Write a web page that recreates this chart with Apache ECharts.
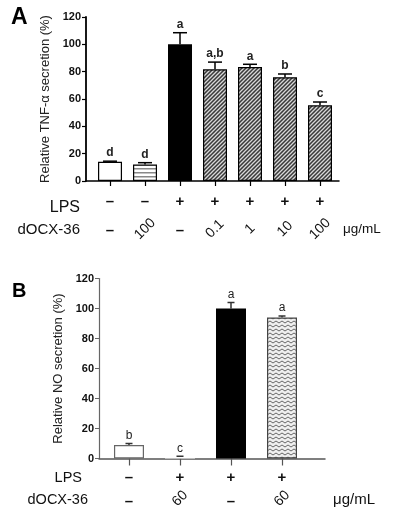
<!DOCTYPE html>
<html><head><meta charset="utf-8">
<script src="https://cdn.jsdelivr.net/npm/echarts@6/dist/echarts.min.js"></script>
<style>html,body{margin:0;padding:0;background:#fff}#c{width:395px;height:520px}</style>
</head><body><div id="c"></div>
<script>
// ---- data ----
const tnfValues = [14, 12, 100, 81.7, 83.4, 75.9, 55.4];
const tnfErrTop = [14.5, 13.4, 108.5, 87, 85.4, 78.3, 57.8];
const tnfLetters = ['d', 'd', 'a', 'a,b', 'a', 'b', 'c'];
const tnfLps = ['–', '–', '+', '+', '+', '+', '+'];
const tnfDose = ['–', '100', '–', '0.1', '1', '10', '100'];
const noValues = [9, 1, 100, 94];
const noErrTop = [10, 1.5, 104, 95];
const noLetters = ['b', 'c', 'a', 'a'];
const noLps = ['–', '+', '+', '+'];
const noDose = ['–', '60', '–', '60'];
const yMin = 0, yMax = 120, yStep = 20;

const FONT = 'Arial, "Liberation Sans", Helvetica, sans-serif';

// ---- patterns ----
function pat(w, h, draw) {
  const c = document.createElement('canvas'); c.width = w; c.height = h;
  draw(c.getContext('2d'), w, h);
  return { image: c, repeat: 'repeat' };
}
const stripesH = pat(4, 4, (g, w, h) => {
  g.fillStyle = '#fff'; g.fillRect(0, 0, w, h);
  g.fillStyle = '#888'; g.fillRect(0, 0, w, 1.5);
});
const hatch = pat(4, 4, (g, w, h) => {
  g.fillStyle = '#3a3a3a'; g.fillRect(0, 0, w, h);
  g.strokeStyle = '#d8d8d8'; g.lineWidth = 1.3;
  g.beginPath();
  g.moveTo(-1, h + 1); g.lineTo(w + 1, -1);
  g.moveTo(-1, 1); g.lineTo(1, -1);
  g.moveTo(w - 1, h + 1); g.lineTo(w + 1, h - 1);
  g.stroke();
});
const zigzag = pat(6, 4, (g, w, h) => {
  g.fillStyle = '#efefef'; g.fillRect(0, 0, w, h);
  g.strokeStyle = '#666'; g.lineWidth = 1;
  g.beginPath(); g.moveTo(0, 1); g.lineTo(3, 3); g.lineTo(6, 1); g.stroke();
});

const tnfStyles = [
  { color: '#fff', borderColor: '#000', borderWidth: 1.2 },
  { color: stripesH, borderColor: '#000', borderWidth: 1.2 },
  { color: '#000', borderColor: '#000', borderWidth: 1.2 },
  { color: hatch, borderColor: '#000', borderWidth: 1.2 },
  { color: hatch, borderColor: '#000', borderWidth: 1.2 },
  { color: hatch, borderColor: '#000', borderWidth: 1.2 },
  { color: hatch, borderColor: '#000', borderWidth: 1.2 }
];
const noStyles = [
  { color: '#fff', borderColor: '#666', borderWidth: 1.2 },
  { color: '#fff', borderWidth: 0 },
  { color: '#000', borderColor: '#000', borderWidth: 1.2 },
  { color: zigzag, borderColor: '#444', borderWidth: 1.2 }
];

function idx(arr, pred) { const r = []; arr.forEach((t, i) => { if (pred(t)) r.push(i); }); return r; }

function rowAxis(grid, min, max, texts, values, margin, size, extra) {
  return {
    type: 'value', gridIndex: grid, min: min, max: max, position: 'bottom',
    axisLine: { show: false, onZero: false }, axisTick: { show: false }, splitLine: { show: false },
    axisLabel: Object.assign({
      customValues: values, margin: margin, verticalAlign: 'middle', align: 'center',
      fontFamily: FONT, fontSize: size, color: '#111',
      formatter: v => texts[Math.round(v)]
    }, extra || {})
  };
}

function errRender(vals, tops, letters, cap, lineColor, letterFont) {
  return function (params, api) {
    const i = params.dataIndex;
    const x = api.value(0);
    const p0 = api.coord([x, vals[i]]);
    const p1 = api.coord([x, tops[i]]);
    return {
      type: 'group', children: [
        { type: 'line', shape: { x1: p0[0], y1: p0[1], x2: p1[0], y2: p1[1] }, style: { stroke: lineColor, lineWidth: 1.5 } },
        { type: 'line', shape: { x1: p1[0] - cap / 2, y1: p1[1], x2: p1[0] + cap / 2, y2: p1[1] }, style: { stroke: lineColor, lineWidth: 1.5 } },
        { type: 'text', x: p1[0], y: p1[1] - 2, style: { text: letters[i], textAlign: 'center', textVerticalAlign: 'bottom', font: letterFont, fill: '#222' } }
      ]
    };
  };
}

const aMin = -0.686, aMax = 6.543;
const bMin = -0.588, bMax = 3.843;
const aIdx = tnfValues.map((v, i) => i);
const bIdx = noValues.map((v, i) => i);

const yLabel = { fontFamily: FONT, fontSize: 11, fontWeight: 'bold', color: '#111', margin: 5 };

const option = {
  animation: false,
  backgroundColor: '#fff',
  textStyle: { fontFamily: FONT },
  grid: [
    { left: 86, top: 17, width: 253, height: 164, outerBoundsMode: 'none', containLabel: false },
    { left: 99, top: 278.5, width: 226, height: 180, outerBoundsMode: 'none', containLabel: false }
  ],
  xAxis: [
    { type: 'value', gridIndex: 0, min: aMin, max: aMax, position: 'bottom',
      axisLine: { show: true, onZero: false, lineStyle: { color: '#000', width: 1.5 } },
      axisTick: { show: true, customValues: aIdx, length: 5, lineStyle: { color: '#000', width: 1.2 } },
      axisLabel: { show: false }, splitLine: { show: false } },
    rowAxis(0, aMin, aMax, tnfLps, aIdx, 21, 15, { fontWeight: 'bold' }),
    rowAxis(0, aMin, aMax, tnfDose, idx(tnfDose, t => t === '–'), 50, 15, { fontWeight: 'bold' }),
    rowAxis(0, aMin, aMax, tnfDose, idx(tnfDose, t => t !== '–'), 48, 14, { rotate: 45 }),
    { type: 'value', gridIndex: 1, min: bMin, max: bMax, position: 'bottom',
      axisLine: { show: true, onZero: false, lineStyle: { color: '#555', width: 1.5 } },
      axisTick: { show: true, customValues: bIdx, length: 7, lineStyle: { color: '#555', width: 1.2 } },
      axisLabel: { show: false }, splitLine: { show: false } },
    rowAxis(1, bMin, bMax, noLps, bIdx, 19.5, 15, { fontWeight: 'bold' }),
    rowAxis(1, bMin, bMax, noDose, idx(noDose, t => t === '–'), 43, 15, { fontWeight: 'bold' }),
    rowAxis(1, bMin, bMax, noDose, idx(noDose, t => t !== '–'), 40, 14, { rotate: 45 })
  ],
  yAxis: [
    { type: 'value', gridIndex: 0, min: yMin, max: yMax, interval: yStep,
      axisLine: { show: true, onZero: false, lineStyle: { color: '#000', width: 1.8 } },
      axisTick: { show: true, length: 4, lineStyle: { color: '#000', width: 1.2 } },
      axisLabel: yLabel, splitLine: { show: false },
      name: 'Relative TNF-α secretion (%)', nameLocation: 'middle', nameGap: 25,
      nameTextStyle: { fontFamily: FONT, fontSize: 13, color: '#222' } },
    { type: 'value', gridIndex: 1, min: yMin, max: yMax, interval: yStep,
      axisLine: { show: true, onZero: false, lineStyle: { color: '#666', width: 1.2 } },
      axisTick: { show: true, length: 4, lineStyle: { color: '#666', width: 1 } },
      axisLabel: yLabel, splitLine: { show: false },
      name: 'Relative NO secretion (%)', nameLocation: 'middle', nameGap: 27,
      nameTextStyle: { fontFamily: FONT, fontSize: 13, color: '#222' } }
  ],
  graphic: [
    { type: 'text', left: 11, top: 6, style: { text: 'A', font: 'bold 23px ' + FONT, fill: '#000' } },
    { type: 'text', left: 12, top: 281, style: { text: 'B', font: 'bold 20px ' + FONT, fill: '#000' } },
    { type: 'text', right: 395 - 80, top: 200, style: { text: 'LPS', font: '16px ' + FONT, fill: '#111' } },
    { type: 'text', right: 395 - 80, top: 222, style: { text: 'dOCX-36', font: '15px ' + FONT, fill: '#111' } },
    { type: 'text', left: 343, top: 222, style: { text: 'μg/mL', font: '13.5px ' + FONT, fill: '#111' } },
    { type: 'text', right: 395 - 82, top: 470, style: { text: 'LPS', font: '14.5px ' + FONT, fill: '#111' } },
    { type: 'text', right: 395 - 88, top: 492, style: { text: 'dOCX-36', font: '14.5px ' + FONT, fill: '#111' } },
    { type: 'text', left: 333, top: 492, style: { text: 'μg/mL', font: '15px ' + FONT, fill: '#111' } }
  ],
  series: [
    { type: 'bar', xAxisIndex: 0, yAxisIndex: 0, barWidth: 24,
      data: tnfValues.map((v, i) => ({ value: [i, v], itemStyle: tnfStyles[i] })) },
    { type: 'custom', xAxisIndex: 0, yAxisIndex: 0, clip: false,
      renderItem: errRender(tnfValues, tnfErrTop, tnfLetters, 14, '#000', 'bold 12px ' + FONT),
      data: tnfErrTop.map((v, i) => [i, v]) },
    { type: 'bar', xAxisIndex: 4, yAxisIndex: 1, barWidth: 30,
      data: noValues.map((v, i) => ({ value: [i, v], itemStyle: noStyles[i] })) },
    { type: 'custom', xAxisIndex: 4, yAxisIndex: 1, clip: false,
      renderItem: errRender(noValues, noErrTop, noLetters, 7, '#333', '12px ' + FONT),
      data: noErrTop.map((v, i) => [i, v]) }
  ]
};
const chart = echarts.init(document.getElementById('c'), null, { renderer: 'canvas' });
chart.setOption(option);
</script></body></html>
